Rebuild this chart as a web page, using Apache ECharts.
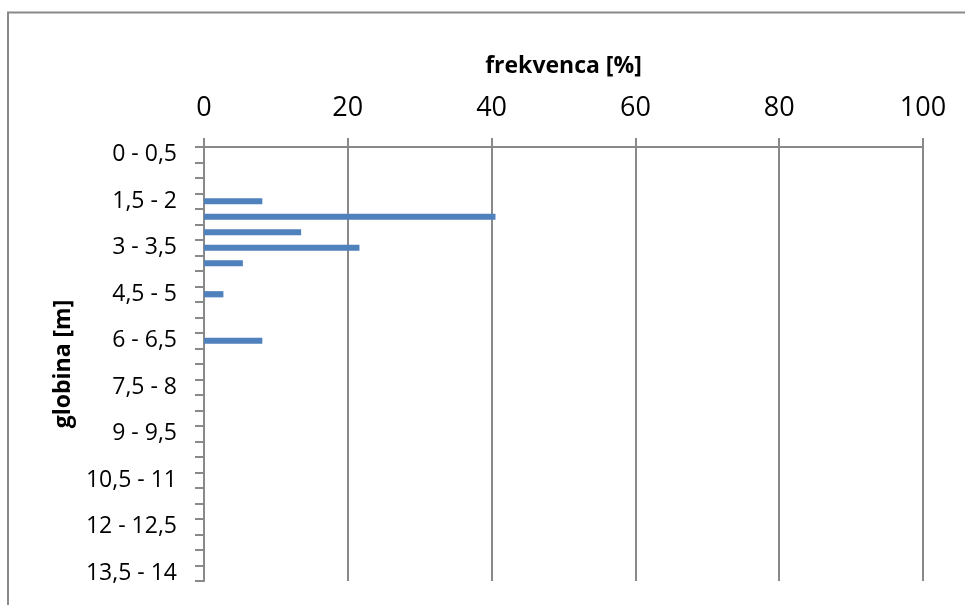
<!DOCTYPE html>
<html>
<head>
<meta charset="utf-8">
<script src="https://cdn.jsdelivr.net/npm/echarts@6/dist/echarts.min.js"></script>
<style>
html,body{margin:0;padding:0;background:#fff;}
#chart{width:965px;height:605px;}
</style>
</head>
<body>
<div id="chart"></div>
<script>
var categories = ["0 - 0,5","0,5 - 1","1 - 1,5","1,5 - 2","2 - 2,5","2,5 - 3","3 - 3,5","3,5 - 4","4 - 4,5","4,5 - 5","5 - 5,5","5,5 - 6","6 - 6,5","6,5 - 7","7 - 7,5","7,5 - 8","8 - 8,5","8,5 - 9","9 - 9,5","9,5 - 10","10 - 10,5","10,5 - 11","11 - 11,5","11,5 - 12","12 - 12,5","12,5 - 13","13 - 13,5","13,5 - 14"];
var frekvenca = [0,0,0,8.11,40.54,13.51,21.62,5.41,0,2.70,0,0,8.11,0,0,0,0,0,0,0,0,0,0,0,0,0,0,0];
var xTicks = [0,20,40,60,80,100];
var xTitle = "frekvenca [%]";
var yTitle = "globina [m]";

var gray = '#898989';
var font = 'Open Sans';
var chart = echarts.init(document.getElementById('chart'));
chart.setOption({
  animation: false,
  backgroundColor: '#fff',
  graphic: [{
    type: 'rect',
    shape: {x: 8, y: 12.5, width: 1000, height: 700},
    style: {fill: 'none', stroke: gray, lineWidth: 2}
  }],
  grid: {left: 204, right: 42, top: 147, bottom: 24, containLabel: false},
  xAxis: {
    type: 'value',
    position: 'top',
    min: xTicks[0],
    max: xTicks[xTicks.length - 1],
    interval: xTicks[1] - xTicks[0],
    name: xTitle,
    nameLocation: 'middle',
    nameGap: 69,
    nameTextStyle: {fontFamily: font, fontSize: 23, fontWeight: 'bold', color: '#000'},
    axisLine: {show: true, lineStyle: {color: gray, width: 2}},
    axisTick: {show: true, length: 9, lineStyle: {color: gray, width: 2}},
    splitLine: {show: true, lineStyle: {color: gray, width: 2}},
    axisLabel: {fontFamily: font, fontSize: 27, color: '#000', margin: 25}
  },
  yAxis: {
    type: 'category',
    inverse: true,
    data: categories,
    name: yTitle,
    nameLocation: 'middle',
    nameRotate: 90,
    nameGap: 128,
    nameTextStyle: {fontFamily: font, fontSize: 23, fontWeight: 'bold', color: '#000'},
    axisLine: {show: true, lineStyle: {color: gray, width: 2}},
    axisTick: {show: true, interval: 0, length: 9, lineStyle: {color: gray, width: 2}},
    axisLabel: {interval: 2, fontFamily: font, fontSize: 23, color: '#000', margin: 27, padding: [6, 0, 0, 0]},
    splitLine: {show: false}
  },
  series: [{
    type: 'bar',
    data: frekvenca,
    barWidth: '40%',
    itemStyle: {color: '#4F81BD'}
  }]
});
</script>
</body>
</html>
